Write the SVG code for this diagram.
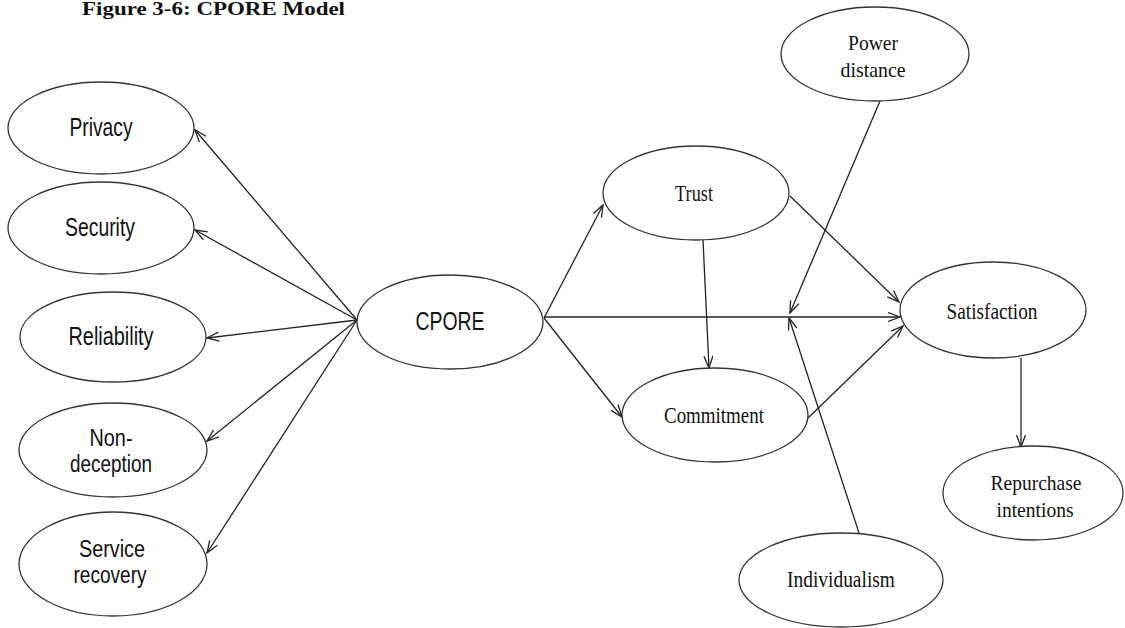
<svg xmlns="http://www.w3.org/2000/svg" width="1125" height="628" viewBox="0 0 1125 628">
<style>
  .node ellipse { fill: #fff; stroke: #333; stroke-width: 1.3; }
  .sans { font-family: "Liberation Sans", Arial, sans-serif; font-size: 25px; fill: #111; text-anchor: middle; }
  .sans2 { font-family: "Liberation Sans", Arial, sans-serif; font-size: 23px; fill: #111; text-anchor: middle; }
  .serif { font-family: "Liberation Serif", "Times New Roman", serif; font-size: 23px; fill: #111; text-anchor: middle; }
  .serif2 { font-family: "Liberation Serif", "Times New Roman", serif; font-size: 22px; fill: #111; text-anchor: middle; }
  .title { font-family: "Liberation Serif", "Times New Roman", serif; font-size: 18px; font-weight: bold; fill: #111; }
  #connectors line { stroke: #222; stroke-width: 1.3; fill: none; marker-end: url(#arr); }
</style>
<defs>
  <marker id="arr" viewBox="0 0 14 10" markerWidth="14" markerHeight="10" refX="13" refY="5" orient="auto" markerUnits="userSpaceOnUse">
    <path d="M1,0.5 L13,5 L1,9.5" fill="none" stroke="#222" stroke-width="1.3"/>
  </marker>
</defs>
<rect width="1125" height="628" fill="#fff"/>
<text class="title" x="82" y="15" textLength="263" lengthAdjust="spacingAndGlyphs">Figure 3-6: CPORE Model</text>

<g id="connectors">
  <line x1="357" y1="320" x2="195" y2="130"/>
  <line x1="357" y1="320" x2="195" y2="230"/>
  <line x1="357" y1="320" x2="207" y2="338"/>
  <line x1="357" y1="320" x2="207" y2="441"/>
  <line x1="357" y1="320" x2="207" y2="553"/>
  <line x1="544" y1="318" x2="603" y2="205"/>
  <line x1="544" y1="318" x2="622" y2="417"/>
  <line x1="544" y1="317" x2="900" y2="317"/>
  <line x1="880" y1="101" x2="790" y2="313"/>
  <line x1="859" y1="533" x2="789" y2="318"/>
  <line x1="703" y1="240" x2="709" y2="368"/>
  <line x1="790" y1="196" x2="899" y2="302"/>
  <line x1="808" y1="418" x2="903" y2="326"/>
  <line x1="1021" y1="358" x2="1021" y2="447"/>
</g>

<g id="privacy" class="node">
  <ellipse cx="101" cy="128" rx="93" ry="46"/>
  <text class="sans" x="101" y="136" textLength="63" lengthAdjust="spacingAndGlyphs">Privacy</text>
</g>
<g id="security" class="node">
  <ellipse cx="101" cy="228" rx="93" ry="46"/>
  <text class="sans" x="100" y="236" textLength="70" lengthAdjust="spacingAndGlyphs">Security</text>
</g>
<g id="reliability" class="node">
  <ellipse cx="113" cy="337" rx="93" ry="45"/>
  <text class="sans" x="111" y="345" textLength="85" lengthAdjust="spacingAndGlyphs">Reliability</text>
</g>
<g id="nondeception" class="node">
  <ellipse cx="113" cy="450" rx="94" ry="47"/>
  <text class="sans2" x="111" y="446" textLength="43" lengthAdjust="spacingAndGlyphs">Non-</text>
  <text class="sans2" x="111" y="472" textLength="82" lengthAdjust="spacingAndGlyphs">deception</text>
</g>
<g id="servicerecovery" class="node">
  <ellipse cx="113" cy="564" rx="94" ry="52"/>
  <text class="sans2" x="112" y="557" textLength="66" lengthAdjust="spacingAndGlyphs">Service</text>
  <text class="sans2" x="110" y="583" textLength="73" lengthAdjust="spacingAndGlyphs">recovery</text>
</g>
<g id="cpore" class="node">
  <ellipse cx="450" cy="322" rx="93" ry="47"/>
  <text class="sans" x="450" y="330" textLength="69" lengthAdjust="spacingAndGlyphs">CPORE</text>
</g>
<g id="trust" class="node">
  <ellipse cx="696" cy="193" rx="93" ry="47"/>
  <text class="serif" x="694" y="201" textLength="38" lengthAdjust="spacingAndGlyphs">Trust</text>
</g>
<g id="commitment" class="node">
  <ellipse cx="715" cy="415" rx="93" ry="47"/>
  <text class="serif" x="714" y="423" textLength="100" lengthAdjust="spacingAndGlyphs">Commitment</text>
</g>
<g id="satisfaction" class="node">
  <ellipse cx="993" cy="310" rx="93" ry="48"/>
  <text class="serif" x="992" y="319" textLength="91" lengthAdjust="spacingAndGlyphs">Satisfaction</text>
</g>
<g id="repurchase" class="node">
  <ellipse cx="1033" cy="493" rx="90" ry="47"/>
  <text class="serif2" x="1036" y="490" textLength="91" lengthAdjust="spacingAndGlyphs">Repurchase</text>
  <text class="serif2" x="1035" y="517" textLength="77" lengthAdjust="spacingAndGlyphs">intentions</text>
</g>
<g id="individualism" class="node">
  <ellipse cx="841" cy="580" rx="102" ry="47"/>
  <text class="serif" x="841" y="587" textLength="108" lengthAdjust="spacingAndGlyphs">Individualism</text>
</g>
<g id="powerdistance" class="node">
  <ellipse cx="875" cy="54" rx="94" ry="47"/>
  <text class="serif2" x="873" y="50" textLength="50" lengthAdjust="spacingAndGlyphs">Power</text>
  <text class="serif2" x="873" y="77" textLength="65" lengthAdjust="spacingAndGlyphs">distance</text>
</g>
</svg>
